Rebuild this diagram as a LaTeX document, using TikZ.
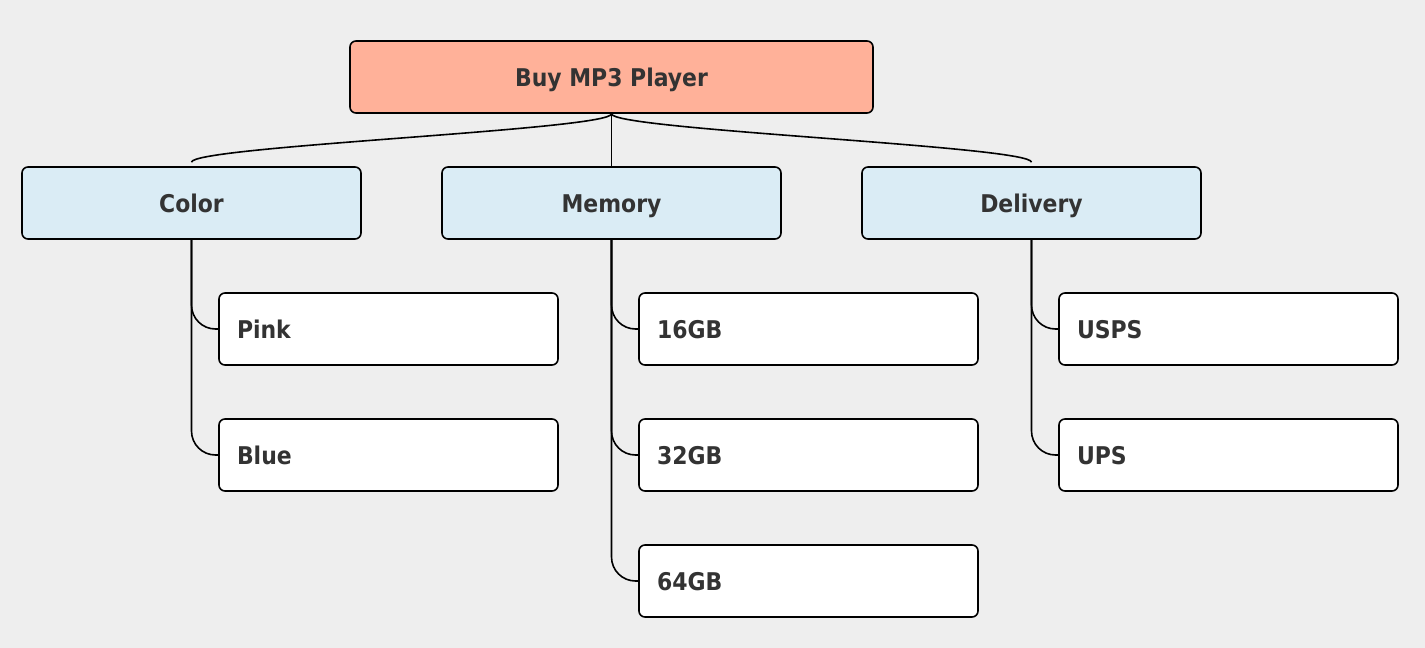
\documentclass[tikz,border=0pt]{standalone}
\usepackage{fontspec}
\usetikzlibrary{calc}
\setmainfont{DejaVu Sans Condensed}[BoldFont={DejaVu Sans Condensed Bold}]
\definecolor{bg}{HTML}{EEEEEE}
\definecolor{rootfill}{HTML}{FFB199}
\definecolor{midfill}{HTML}{DAECF5}
\definecolor{txt}{HTML}{333333}
\tikzset{
  box/.style={draw=black, line width=1.6pt, rounded corners=6pt, minimum height=72pt,
    text=txt, font=\fontsize{24.4}{28}\selectfont\bfseries, inner sep=0pt,
    text height=18pt, text depth=0pt},
  rootbox/.style={box, fill=rootfill, minimum width=523pt},
  midbox/.style={box, fill=midfill, minimum width=339pt},
  leafbox/.style={box, fill=white, text width=303pt, inner xsep=18pt, align=left},
  link/.style={draw=black, line width=1.6pt},
  elbow/.style={link, rounded corners=24pt}
}
\begin{document}
\begin{tikzpicture}[x=1pt,y=-1pt]
\fill[bg] (0,0) rectangle (1425,648);
\useasboundingbox (0,0) rectangle (1425,648);
\node[rootbox] (root) at (611.5,77) {Buy MP3 Player};
\node[midbox] (color) at (191.5,203) {Color};
\node[midbox] (memory) at (611.5,203) {Memory};
\node[midbox] (delivery) at (1031.5,203) {Delivery};
\node[leafbox] (pink) at (388.5,329) {Pink};
\node[leafbox] (blue) at (388.5,455) {Blue};
\node[leafbox] (g16) at (808.5,329) {16GB};
\node[leafbox] (g32) at (808.5,455) {32GB};
\node[leafbox] (g64) at (808.5,581) {64GB};
\node[leafbox] (usps) at (1228.5,329) {USPS};
\node[leafbox] (ups) at (1228.5,455) {UPS};
\draw[link] (root.south) .. controls ++(0,16) and ($(color.north)+(0,-20)$) .. ([yshift=4pt]color.north);
\draw[link] (root.south) .. controls ++(0,16) and ($(delivery.north)+(0,-20)$) .. ([yshift=4pt]delivery.north);
\draw[link] (root.south) -- (memory.north);
\draw[elbow] (color.south) |- (pink.west);
\draw[elbow] (color.south) |- (blue.west);
\draw[elbow] (memory.south) |- (g16.west);
\draw[elbow] (memory.south) |- (g32.west);
\draw[elbow] (memory.south) |- (g64.west);
\draw[elbow] (delivery.south) |- (usps.west);
\draw[elbow] (delivery.south) |- (ups.west);
\end{tikzpicture}
\end{document}
